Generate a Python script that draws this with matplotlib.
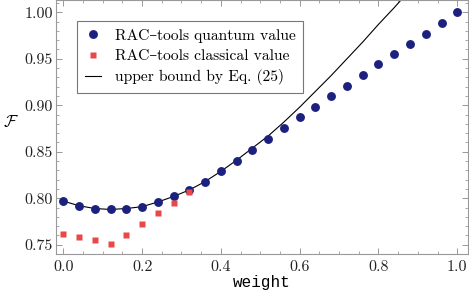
import numpy as np
import matplotlib
matplotlib.use("Agg")
import matplotlib.pyplot as plt
from matplotlib.ticker import MultipleLocator

plt.rcParams['font.family'] = ['cmr10', 'DejaVu Serif']
plt.rcParams['mathtext.fontset'] = 'cm'
plt.rcParams['axes.formatter.use_mathtext'] = True

# quantum values (RAC-tools), weight 0..1 step 0.04
w_q = [0.00, 0.04, 0.08, 0.12, 0.16, 0.20, 0.24, 0.28, 0.32, 0.36, 0.40, 0.44, 0.48,
       0.52, 0.56, 0.60, 0.64, 0.68, 0.72, 0.76, 0.80, 0.84, 0.88, 0.92, 0.96, 1.00]
f_q = [0.797, 0.792, 0.789, 0.788, 0.789, 0.791, 0.796, 0.802, 0.809, 0.818, 0.829, 0.840, 0.852,
       0.864, 0.876, 0.887, 0.898, 0.910, 0.921, 0.933, 0.944, 0.955, 0.966, 0.977, 0.988, 1.000]

# classical values (RAC-tools)
w_c = [0.00, 0.04, 0.08, 0.12, 0.16, 0.20, 0.24, 0.28, 0.32]
f_c = [0.762, 0.758, 0.755, 0.751, 0.760, 0.772, 0.784, 0.795, 0.807]

# upper bound by Eq. (25)
w_b = [0.00, 0.04, 0.08, 0.12, 0.16, 0.20, 0.24, 0.28, 0.32, 0.36, 0.40, 0.44, 0.48,
       0.52, 0.56, 0.60, 0.64, 0.68, 0.72, 0.76, 0.80, 0.84, 0.88]
f_b = [0.797, 0.792, 0.789, 0.788, 0.789, 0.791, 0.796, 0.802, 0.809, 0.818, 0.829, 0.841, 0.854,
       0.867, 0.882, 0.898, 0.915, 0.932, 0.950, 0.968, 0.987, 1.005, 1.024]

fig = plt.figure(figsize=(4.69, 3.02), dpi=100)
ax = fig.add_axes([0.119, 0.158, 0.8795, 0.842])

ax.plot(w_b, f_b, color='black', lw=0.8, zorder=2, label='upper bound by Eq. (25)')
ax.plot(w_q, f_q, 'o', color='#1c2180', ms=6.4, mec='none', zorder=3,
        label='RAC–tools quantum value')
ax.plot(w_c, f_c, 's', color='#e84848', ms=4.6, mec='none', zorder=3,
        label='RAC–tools classical value')

ax.set_xlim(-0.019, 1.028)
ax.set_ylim(0.7398, 1.0132)

ax.xaxis.set_major_locator(MultipleLocator(0.2))
ax.xaxis.set_minor_locator(MultipleLocator(0.05))
ax.yaxis.set_major_locator(MultipleLocator(0.05))
ax.yaxis.set_minor_locator(MultipleLocator(0.01))
ax.xaxis.set_major_formatter(matplotlib.ticker.FormatStrFormatter('%.1f'))
ax.yaxis.set_major_formatter(matplotlib.ticker.FormatStrFormatter('%.2f'))

ax.tick_params(which='both', direction='in', top=True, right=True, color='#999999',
               labelsize=11.5, labelcolor='#222222')
ax.tick_params(axis='y', pad=2)
ax.tick_params(axis='x', pad=4)
ax.tick_params(which='major', length=4, width=0.7)
ax.tick_params(which='minor', length=2, width=0.6)
for s in ax.spines.values():
    s.set_color('#999999')
    s.set_linewidth(0.8)

ax.set_xlabel('weight', family='Liberation Mono', fontsize=11.5, labelpad=1)
ax.set_ylabel(r'$\mathcal{F}$', fontsize=12, rotation=0)
ax.yaxis.set_label_coords(-0.11, 0.49)

h, l = ax.get_legend_handles_labels()
leg = ax.legend([h[1], h[2], h[0]], [l[1], l[2], l[0]], loc='upper left',
                bbox_to_anchor=(0.052, 0.917), fontsize=11.2, frameon=True,
                fancybox=False, edgecolor='#555555', handlelength=1.0,
                handletextpad=0.9, borderpad=0.5, labelspacing=0.4,
                borderaxespad=0)
leg.get_frame().set_linewidth(0.8)

fig.savefig('out.png', dpi=100)
